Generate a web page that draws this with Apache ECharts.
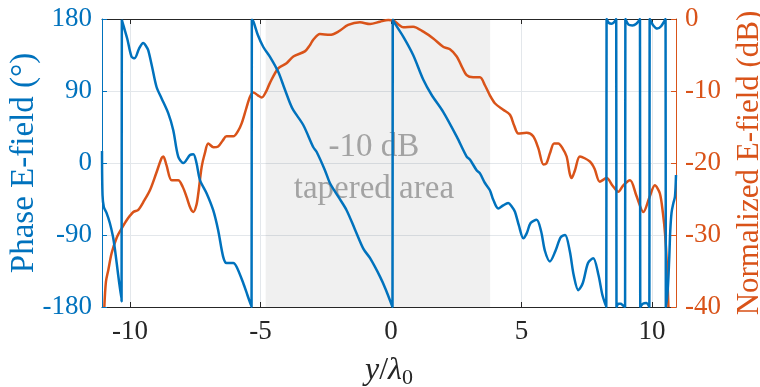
<!DOCTYPE html>
<html>
<head>
<meta charset="utf-8">
<script src="https://cdn.jsdelivr.net/npm/echarts@6/dist/echarts.min.js"></script>
<style>
html,body{margin:0;padding:0;background:#fff;}
#chart{width:760px;height:387px;}
</style>
</head>
<body>
<div id="chart"></div>
<script>
// ---- data ----
var xTicks = [-10, -5, 0, 5, 10];
var phaseTicks = [-180, -90, 0, 90, 180];
var dbTicks = [-40, -30, -20, -10, 0];
var taperRange = [-4.8, 3.8];
var taperText = ['-10 dB', 'tapered area'];

var phaseX = [-11.07,-11.05,-11.0,-10.9,-10.77,-10.65,-10.57,-10.45,-10.32,-10.31,-10.25,-10.1,-9.94,-9.82,-9.65,-9.49,-9.38,-9.3,-9.15,-8.98,-8.79,-8.53,-8.34,-8.15,-7.95,-7.7,-7.57,-7.45,-7.32,-7.06,-6.81,-6.62,-6.43,-6.3,-6.04,-5.91,-5.66,-5.5,-5.34,-5.33,-5.27,-5.1,-4.89,-4.64,-4.32,-4.1,-3.87,-3.74,-3.36,-2.98,-2.85,-2.53,-2.34,-2.0,-1.7,-1.38,-1.06,-0.8,-0.42,-0.2,0.06,0.07,0.1,0.47,0.85,1.24,1.56,2.0,2.52,2.9,3.03,3.28,3.41,3.6,3.79,3.92,4.11,4.3,4.49,4.62,4.75,4.9,5.07,5.2,5.35,5.58,5.75,5.9,6.09,6.3,6.5,6.67,6.85,7.0,7.18,7.35,7.55,7.75,7.95,8.1,8.25,8.26,8.35,8.45,8.55,8.63,8.64,8.72,8.8,8.89,8.97,8.98,9.1,9.25,9.4,9.54,9.55,9.65,9.78,9.9,9.91,10.05,10.2,10.35,10.52,10.53,10.6,10.66,10.7,10.75,10.82,10.88,10.92];
var phaseY = [15,-40,-55,-62,-75,-92,-109,-140,-173,179,172,155,133,131,143,150,146,141,120,95,81,62,41,8,0,10,11,0,-21,-38,-59,-84,-117,-125,-125,-130,-150,-165,-180,179,177,160,145,133,114,95,75,66,47.5,20,14,-9,-25,-43,-59,-83,-107,-119,-142,-158,-180,179,177,158,135,104,85,64,33,8,4,-9,-13,-25,-34,-46,-57,-53,-50,-54,-61,-78,-94,-88,-75,-71,-85,-110,-123,-110,-93,-90,-110,-140,-159,-150,-125,-119,-140,-165,-180,180,175,174,176,180,-180,-176,-176,-178,-180,180,173,172,174,180,-180,-176,-175,-180,180,172,168,171,180,-180,-160,-120,-85,-62,-50,-42,-15];

var magX = [-10.98,-10.92,-10.83,-10.7,-10.5,-10.32,-10.1,-9.87,-9.68,-9.45,-9.23,-9.0,-8.79,-8.72,-8.6,-8.4,-8.15,-7.98,-7.83,-7.68,-7.57,-7.45,-7.38,-7.25,-7.13,-7.0,-6.8,-6.62,-6.45,-6.3,-6.04,-5.85,-5.72,-5.55,-5.4,-5.27,-5.1,-4.95,-4.8,-4.64,-4.32,-4.0,-3.74,-3.3,-3.1,-2.98,-2.72,-2.34,-2.02,-1.64,-1.19,-0.8,-0.42,-0.1,0.09,0.3,0.47,0.85,1.24,1.62,2.0,2.26,2.52,2.7,2.9,3.15,3.41,3.6,3.79,3.98,4.3,4.56,4.72,4.88,5.2,5.45,5.65,5.84,5.95,6.09,6.25,6.41,6.58,6.73,6.85,6.92,7.05,7.24,7.62,7.8,8.0,8.26,8.5,8.71,8.9,9.16,9.4,9.67,9.9,10.11,10.3,10.42,10.5,10.57,10.63];
var magY = [-40,-36.5,-34.9,-32.5,-30.3,-29.1,-27.8,-26.8,-26.5,-25.2,-23.75,-21.5,-19.35,-19.1,-20.3,-22.4,-22.4,-23.3,-24.7,-26.3,-26.8,-25.8,-24.2,-20.5,-18.65,-17.3,-17.8,-17.7,-16.9,-16.3,-16.3,-15.5,-14.5,-12.5,-10.8,-10.2,-10.6,-10.9,-10.2,-8.9,-6.85,-6.15,-5.2,-4.5,-3.6,-2.9,-2.1,-2.2,-1.76,-0.83,-0.46,-0.7,-0.37,-0.14,-0.2,-0.8,-1.16,-1.06,-1.76,-2.7,-3.85,-4.2,-5.2,-6.5,-7.8,-8.1,-8.1,-9.2,-10.6,-11.7,-12.6,-13.3,-14.8,-15.9,-15.8,-16.3,-18,-20.2,-20.1,-18.65,-17.3,-17.3,-18,-19.1,-21.5,-22.1,-21,-19.1,-19.8,-20.8,-22.6,-22.1,-23.2,-24.0,-23.1,-22.4,-24.5,-26.8,-24.8,-23.1,-24.2,-27,-29.8,-34,-40];

var phaseName = 'Phase E-field (°)';
var magName = 'Normalized E-field (dB)';

// ---- build ----
var BLUE = '#0072BD', ORANGE = '#D95319', DARK = '#262626', GRID = '#e3e7eb';
var SERIF = '"Liberation Serif", "Times New Roman", serif';
function zip(a, b) { return a.map(function (v, i) { return [v, b[i]]; }); }

var chart = echarts.init(document.getElementById('chart'), null, { renderer: 'canvas' });
var xMin = -11.07, xMax = 10.92;

chart.setOption({
  animation: false,
  backgroundColor: '#fff',
  grid: { left: 102, right: 84, top: 19, bottom: 80, containLabel: false, outerBoundsMode: 'none' },
  xAxis: [{
    type: 'value', min: xMin, max: xMax, position: 'bottom',
    axisLine: { show: true, onZero: false, lineStyle: { color: DARK, width: 1 } },
    axisTick: { show: true, inside: true, length: 5, customValues: xTicks, lineStyle: { color: DARK } },
    axisLabel: { customValues: xTicks, color: DARK, fontFamily: SERIF, fontSize: 27, margin: 11 },
    splitLine: { show: true, lineStyle: { color: GRID, width: 1 } },
    name: '{i|y}{n|/}{i|λ}{s|0}',
    nameLocation: 'middle', nameGap: 46, nameMoveOverlap: false,
    nameTextStyle: {
      rich: {
        i: { fontFamily: SERIF, fontStyle: 'italic', fontSize: 32, color: DARK },
        n: { fontFamily: SERIF, fontSize: 32, color: DARK },
        s: { fontFamily: SERIF, fontSize: 22, color: DARK, padding: [14, 0, 0, 0] }
      }
    }
  }, {
    type: 'value', min: xMin, max: xMax, position: 'top',
    axisLine: { show: true, onZero: false, lineStyle: { color: DARK, width: 1 } },
    axisTick: { show: true, inside: true, length: 5, customValues: xTicks, lineStyle: { color: DARK } },
    axisLabel: { show: false },
    splitLine: { show: false }
  }],
  yAxis: [{
    type: 'value', min: -180, max: 180, interval: 90, position: 'left',
    axisLine: { show: true, onZero: false, lineStyle: { color: BLUE, width: 1 } },
    axisTick: { show: true, inside: true, length: 5, lineStyle: { color: BLUE } },
    axisLabel: { color: BLUE, fontFamily: SERIF, fontSize: 27, margin: 10 },
    splitLine: { show: true, lineStyle: { color: GRID, width: 1 } },
    name: phaseName, nameLocation: 'middle', nameGap: 61, nameMoveOverlap: false,
    nameTextStyle: { color: BLUE, fontFamily: SERIF, fontSize: 33 }
  }, {
    type: 'value', min: -40, max: 0, interval: 10, position: 'right',
    axisLine: { show: true, onZero: false, lineStyle: { color: ORANGE, width: 1 } },
    axisTick: { show: true, inside: true, length: 5, lineStyle: { color: ORANGE } },
    axisLabel: { color: ORANGE, fontFamily: SERIF, fontSize: 27, margin: 9 },
    splitLine: { show: false },
    name: magName, nameLocation: 'middle', nameGap: 58, nameMoveOverlap: false,
    nameTextStyle: { color: ORANGE, fontFamily: SERIF, fontSize: 31 }
  }],
  series: [{
    type: 'line', xAxisIndex: 0, yAxisIndex: 1,
    data: zip(magX, magY), showSymbol: false, smooth: 0.3,
    lineStyle: { color: ORANGE, width: 2.5 }, z: 3,
    markArea: {
      silent: true,
      itemStyle: { color: 'rgba(0,0,0,0.058)' },
      label: {
        show: true, position: 'inside', offset: [-4, 5],
        formatter: taperText.join('\n'),
        color: '#a3a3a3', fontFamily: SERIF, fontSize: 33, lineHeight: 42
      },
      data: [[{ xAxis: taperRange[0], yAxis: -40 }, { xAxis: taperRange[1], yAxis: 0 }]]
    }
  }, {
    type: 'line', xAxisIndex: 0, yAxisIndex: 0,
    data: zip(phaseX, phaseY), showSymbol: false, smooth: 0.3,
    lineStyle: { color: BLUE, width: 2.5 }, z: 4
  }]
});
</script>
</body>
</html>
